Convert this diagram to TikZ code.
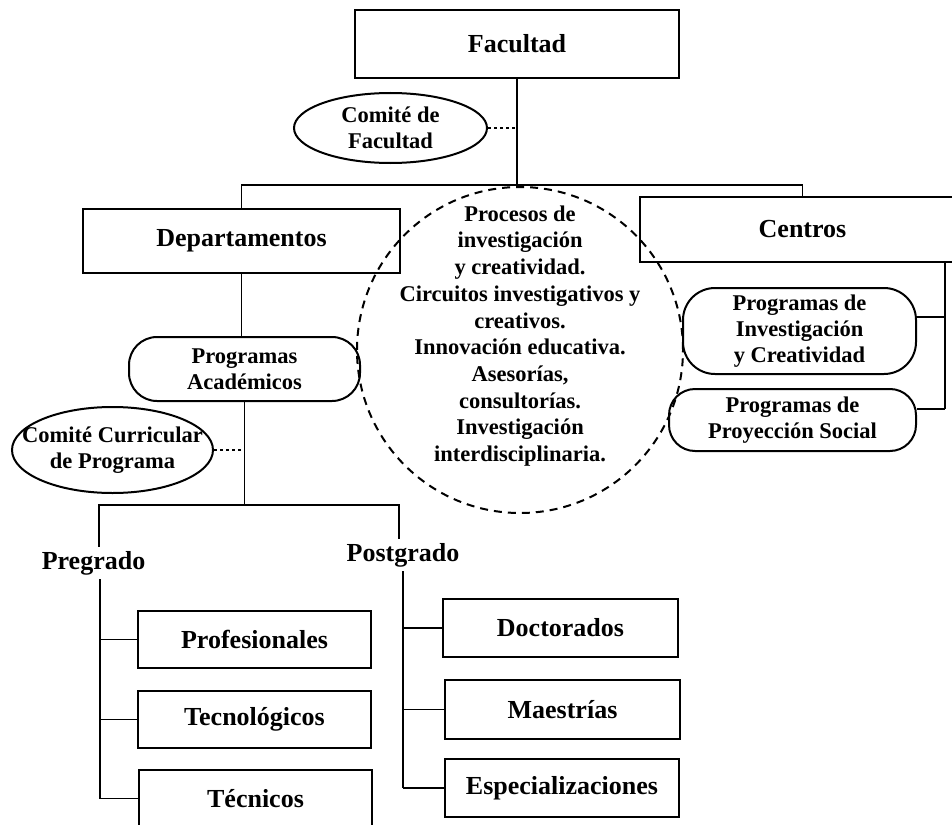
\documentclass[tikz,border=0pt]{standalone}
\usepackage{fontspec}
\setmainfont{Liberation Serif}
\usetikzlibrary{shapes.geometric,calc}
\begin{document}
\begin{tikzpicture}[x=1pt,y=-1pt,
  box/.style={draw,line width=2pt,inner sep=0pt,align=center,font=\bfseries\fontsize{26}{30}\selectfont},
  rbox/.style={draw,line width=2pt,inner sep=0pt,align=center,font=\bfseries\fontsize{22.5}{26}\selectfont},
  oval/.style={draw,ellipse,line width=2pt,inner xsep=-30pt,inner ysep=-12pt,align=center,font=\bfseries\fontsize{22.5}{26}\selectfont},
  lbl/.style={inner sep=4pt,font=\bfseries\fontsize{26}{30}\selectfont},
  conn/.style={line width=1.8pt},
  dotconn/.style={line width=1.8pt,dash pattern=on 3pt off 3pt},
  bubble/.style={draw,circle,line width=2pt,dash pattern=on 8pt off 6pt,inner sep=0pt}]
\useasboundingbox (0,0) rectangle (952,824);
% top level
\node[box,minimum width=324,minimum height=68] (fac) at (517,44) {Facultad};
\node[oval,minimum width=193,minimum height=70] (cf) at (390.5,128) {Comité de\\Facultad};
\node[box,minimum width=317,minimum height=64] (dep) at (241.5,241) {Departamentos};
\node[box,minimum width=325,minimum height=65] (cen) at (802.5,229.5) {Centros};
% dashed bubble
\node[bubble,minimum size=326] (circ) at (520,350) {};
\node[align=center,inner sep=0pt,font=\bfseries\fontsize{22.5}{26.7}\selectfont] (circtext) at (520,336)
  {Procesos de\\investigación\\y creatividad.\\Circuitos investigativos y\\creativos.\\Innovación educativa.\\Asesorías,\\consultorías.\\Investigación\\interdisciplinaria.};
% programs
\node[rbox,rounded corners=28pt,minimum width=231,minimum height=64] (pa) at (244.5,369) {Programas\\Académicos};
\node[oval,minimum width=201,minimum height=86] (cc) at (112.5,450) {Comité Curricular\\de Programa};
\node[rbox,rounded corners=32pt,minimum width=233,minimum height=86] (pic) at (799.5,331) {Programas de\\Investigación\\y Creatividad};
\node[rbox,rounded corners=26pt,minimum width=247,minimum height=62] (pps) at (792.5,420) {Programas de\\Proyección Social};
% levels
\node[lbl] (pre) at (93.5,563) {Pregrado};
\node[lbl] (post) at (403,555) {Postgrado};
\node[box,minimum width=233,minimum height=57] (prof) at (254.5,639.5) {Profesionales};
\node[box,minimum width=233,minimum height=57] (tecn) at (254.5,719.5) {Tecnológicos};
\node[box,minimum width=233,minimum height=57] (tec) at (255.5,798.5) {Técnicos};
\node[box,minimum width=235,minimum height=58] (doc) at (560.5,628) {Doctorados};
\node[box,minimum width=235,minimum height=59] (mae) at (562.5,709.5) {Maestrías};
\node[box,minimum width=234,minimum height=58] (esp) at (562,788) {Especializaciones};
% helper coordinates
\coordinate (bus) at (517,185);
\coordinate (busL) at (99,505);
\coordinate (busR) at (399,505);
\coordinate (pgv) at (100,0);
\coordinate (psv) at (403,0);
\coordinate (cv) at (945,0);
\coordinate (picb) at ([yshift=14pt]pic.east);
\coordinate (ppsb) at ([yshift=11pt]pps.east);
% connectors
\draw[conn] (fac.south) -- (bus);
\draw[conn] (dep.north) -- (dep.north |- bus) -- (cen.north |- bus) -- (cen.north);
\draw[dotconn] (cf.east) -- (cf.east -| fac.south);
\draw[conn] (dep.south) -- (dep.south |- pa.north);
\draw[conn] (pa.south) -- (pa.south |- busL);
\draw[dotconn] (cc.east) -- (cc.east -| pa.south);
\draw[conn] (busL |- pre.north) -- (busL) -- (busR) -- (busR |- post.north);
\draw[conn] (pgv |- pre.south) -- (pgv |- tec.west);
\draw[conn] (prof.west) -- (prof.west -| pgv);
\draw[conn] (tecn.west) -- (tecn.west -| pgv);
\draw[conn] (tec.west) -- (tec.west -| pgv);
\draw[conn] (psv |- post.south) -- (psv |- esp.west);
\draw[conn] (doc.west) -- (doc.west -| psv);
\draw[conn] (mae.west) -- (mae.west -| psv);
\draw[conn] (esp.west) -- (esp.west -| psv);
\draw[conn] (cv |- cen.south) -- (cv |- ppsb);
\draw[conn] (picb) -- (cv |- picb);
\draw[conn] (ppsb) -- (cv |- ppsb);
\end{tikzpicture}
\end{document}
